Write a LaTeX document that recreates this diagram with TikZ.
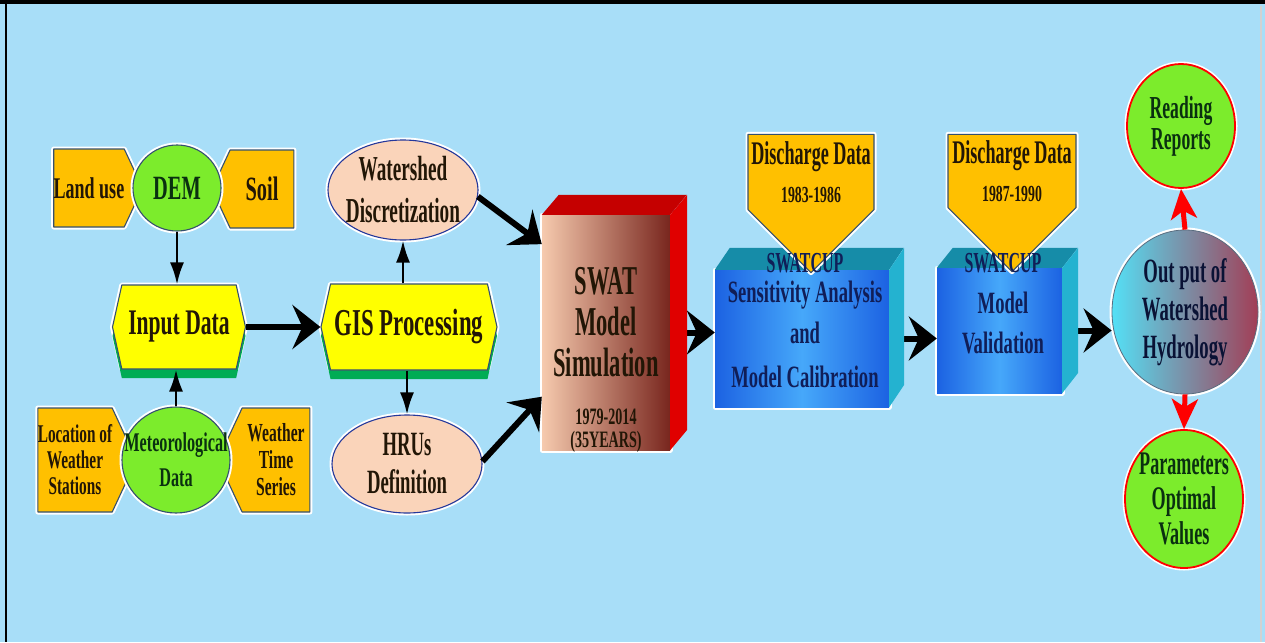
\documentclass[tikz,border=0pt]{standalone}
\usepackage{fontspec}
\setmainfont{Liberation Serif}[FakeStretch=0.6]
\newfontfamily\slimfont{Liberation Serif}[FakeStretch=0.55]
\usetikzlibrary{arrows.meta,shapes.geometric,shapes.symbols,shadows}

\definecolor{skyback}{RGB}{168,222,248}
\definecolor{boxorange}{RGB}{255,192,0}
\definecolor{edgeslate}{RGB}{52,80,112}
\definecolor{leafgreen}{RGB}{124,236,44}
\definecolor{hexyellow}{RGB}{255,255,0}
\definecolor{shadegreen}{RGB}{0,172,84}
\definecolor{peach}{RGB}{250,212,186}
\definecolor{swatlight}{RGB}{246,202,174}
\definecolor{swatdark}{RGB}{120,38,30}
\definecolor{cubered}{RGB}{224,0,0}
\definecolor{cubeblue}{RGB}{28,98,226}
\definecolor{cubelight}{RGB}{70,168,250}
\definecolor{cubeteal}{RGB}{22,140,168}
\definecolor{cubeside}{RGB}{36,178,208}
\definecolor{navyink}{RGB}{16,30,88}
\definecolor{ballcyan}{RGB}{84,224,246}
\definecolor{ballmid}{RGB}{150,182,214}
\definecolor{ballwine}{RGB}{162,62,86}
\definecolor{darkink}{RGB}{34,22,6}
\definecolor{greenink}{RGB}{10,48,16}

\begin{document}
\begin{tikzpicture}[
  x=1pt,
  y=-1pt,
  line join=round,
  halo/.style={preaction={draw=white, line width=5}},
  sourcebox/.style={halo, signal, draw=edgeslate, line width=1.1, fill=boxorange,
    text=darkink, signal pointer angle=130, inner sep=0, align=center},
  datacircle/.style={halo, ellipse, draw=edgeslate, line width=1.1, fill=leafgreen,
    text=greenink, inner sep=-30, align=center},
  stepbox/.style={halo, signal, signal to=east and west, signal pointer angle=155,
    draw=edgeslate, line width=1.1, fill=hexyellow, text=darkink, inner sep=0,
    drop shadow={shadow xshift=0pt, shadow yshift=-9pt, fill=shadegreen, opacity=1}},
  gisstep/.style={halo, ellipse, draw=edgeslate!70!blue, line width=1.1, fill=peach,
    text=darkink, inner sep=-30, align=center},
  cubefront/.style={halo, rectangle, inner sep=0},
  cubetext/.style={align=center, inner sep=0, text=navyink},
  outcircle/.style={halo, ellipse, draw=red, line width=1.8, fill=leafgreen,
    text=greenink, inner sep=-30, align=center},
  flow/.style={draw=black, line width=6, -{Stealth[length=28, width=44, inset=10]}},
  feedline/.style={draw=black, line width=2.5, -{Latex[length=22, width=14]}},
  redflow/.style={draw=red, line width=5, -{Stealth[length=30, width=26, inset=8]}}
]
\path[use as bounding box] (0,0) rectangle (1265,642);
\fill[skyback] (0,0) rectangle (1265,642);
\fill[black] (0,0) rectangle (1265,4);
\fill[black] (5,0) rectangle (7,642);
\draw[gray!35, line width=1.5] (1261,6) -- (1261,642);

% Input data sources
\node[sourcebox, signal to=east, minimum width=84, minimum height=78,
  font=\bfseries\fontsize{30}{32}\selectfont] (landuse) at (89,188) {Land use};
\node[sourcebox, signal to=west, minimum width=82, minimum height=78,
  font=\bfseries\fontsize{34}{36}\selectfont] (soil) at (262,189) {Soil};
\node[datacircle, minimum width=88, minimum height=86,
  font=\bfseries\fontsize{34}{36}\selectfont] (dem) at (177,188) {DEM};

\node[sourcebox, signal to=east, minimum width=94, minimum height=104,
  font=\bfseries\fontsize{25.5}{26}\selectfont] (stations) at (75,460) {Location of\\Weather\\Stations};
\node[sourcebox, signal to=west, minimum width=92, minimum height=104,
  font=\bfseries\fontsize{26}{27}\selectfont] (series) at (276,460) {Weather\\Time\\Series};
\node[datacircle, minimum width=108, minimum height=106,
  font=\bfseries\fontsize{27}{35}\selectfont] (meteo) at (176,460) {Meteorological\\Data};

% Processing steps
\node[stepbox, minimum width=133, minimum height=84,
  font=\bfseries\fontsize{36}{38}\selectfont] (input) at (179,327) {Input Data};
\node[stepbox, minimum width=176, minimum height=86,
  font=\bfseries\fontsize{38}{40}\selectfont] (gis) at (409,327) {GIS Processing};
\node[gisstep, minimum width=150, minimum height=100,
  font=\slimfont\bfseries\fontsize{35}{42}\selectfont] (watershed) at (403,190) {Watershed\\Discretization};
\node[gisstep, minimum width=150, minimum height=98,
  font=\slimfont\bfseries\fontsize{34}{38}\selectfont] (hrus) at (407,464) {HRUs\\Definition};

% Model boxes (front faces)
\node[cubefront, left color=swatlight, right color=swatdark,
  minimum width=128, minimum height=235] (swat) at (606,332.5) {};
\node[cubefront, left color=cubeblue, right color=cubeblue, middle color=cubelight,
  minimum width=174, minimum height=137] (sens) at (802,338.5) {};
\node[cubefront, left color=cubeblue, right color=cubeblue, middle color=cubelight,
  minimum width=125, minimum height=125] (val) at (999.5,330.5) {};

% Outputs
\node[halo, ellipse, draw=ballmid!60!black, line width=0.8, inner sep=-30,
  left color=ballcyan, middle color=ballmid, right color=ballwine,
  minimum width=146, minimum height=164, align=center, text=navyink!60!black,
  font=\slimfont\bfseries\fontsize{34}{38}\selectfont] (output) at (1185,312)
  {Out put of\\Watershed\\Hydrology};
\node[outcircle, minimum width=108, minimum height=124,
  font=\slimfont\bfseries\fontsize{32}{31}\selectfont] (reading) at (1181,126) {Reading\\Reports};
\node[outcircle, minimum width=118, minimum height=138,
  font=\slimfont\bfseries\fontsize{33}{35}\selectfont] (params) at (1184,499) {Parameters\\Optimal\\Values};

% Connections
\draw[feedline] (dem.south) -- (dem.south |- input.north);
\draw[feedline] (meteo.north) -- (meteo.north |- input.south);
\draw[feedline] (gis.north -| watershed.south) -- (watershed.south);
\draw[feedline] (gis.south -| hrus.north) -- (hrus.north);
\draw[flow] (input.east) -- (gis.west);
\draw[flow] (watershed.-5) -- (swat.126);
\draw[flow] (hrus.2) -- (swat.225);
\draw[flow] (swat.east) -- (swat.east -| sens.west);
\draw[flow] (sens.east) -- (sens.east -| val.west);
\draw[flow] (val.east) -- (val.east -| output.west);
\draw[redflow] (output.north) -- (reading.south);
\draw[redflow] (output.south) -- (params.north);

% Box sides
\fill[cubered!88!black] (swat.north west) -- ++(17,-20) -- ++(128,0) -- (swat.north east) -- cycle;
\fill[cubered] (swat.north east) -- ++(17,-20) -- ++(0,235) -- (swat.south east) -- cycle;
\fill[cubeteal] (sens.north west) -- ++(15,-22) -- ++(174,0) -- (sens.north east) -- cycle;
\fill[cubeside] (sens.north east) -- ++(15,-22) -- ++(0,137) -- (sens.south east) -- cycle;
\fill[cubeteal] (val.north west) -- ++(16,-20) -- ++(125,0) -- (val.north east) -- cycle;
\fill[cubeside] (val.north east) -- ++(16,-20) -- ++(0,125) -- (val.south east) -- cycle;

% Discharge inputs
\node[sourcebox, signal to=south, signal pointer angle=90, minimum width=126, minimum height=135,
  font=\slimfont\bfseries\fontsize{33}{36}\selectfont] (dischargeA) at (811,172)
  {Discharge Data\\[2pt]{\rmfamily\fontsize{23}{24}\selectfont 1983-1986}};
\node[sourcebox, signal to=south, signal pointer angle=90, minimum width=128, minimum height=133,
  font=\slimfont\bfseries\fontsize{33}{36}\selectfont] (dischargeB) at (1012,171)
  {Discharge Data\\[2pt]{\rmfamily\fontsize{23}{24}\selectfont 1987-1990}};

% Box labels
\node[cubetext, text=darkink, font=\slimfont\bfseries\fontsize{41}{41}\selectfont] (swatLabel) at (606,322)
  {SWAT\\Model\\Simulation};
\node[cubetext, text=darkink, font=\bfseries\fontsize{23.5}{23}\selectfont] (yearsLabel) at (606,431)
  {1979-2014\\(35YEARS)};
\node[cubetext, font=\bfseries\fontsize{31}{30}\selectfont] (sensLabel) at (805,321)
  {{\slimfont\fontsize{29}{30}\selectfont SWATCUP}\\Sensitivity Analysis\\[11pt]and\\[14pt]Model Calibration};
\node[cubetext, font=\bfseries\fontsize{31}{30}\selectfont] (valLabel) at (1003,304)
  {{\slimfont\fontsize{29}{30}\selectfont SWATCUP}\\[11pt]Model\\[10pt]Validation};
\end{tikzpicture}
\end{document}
